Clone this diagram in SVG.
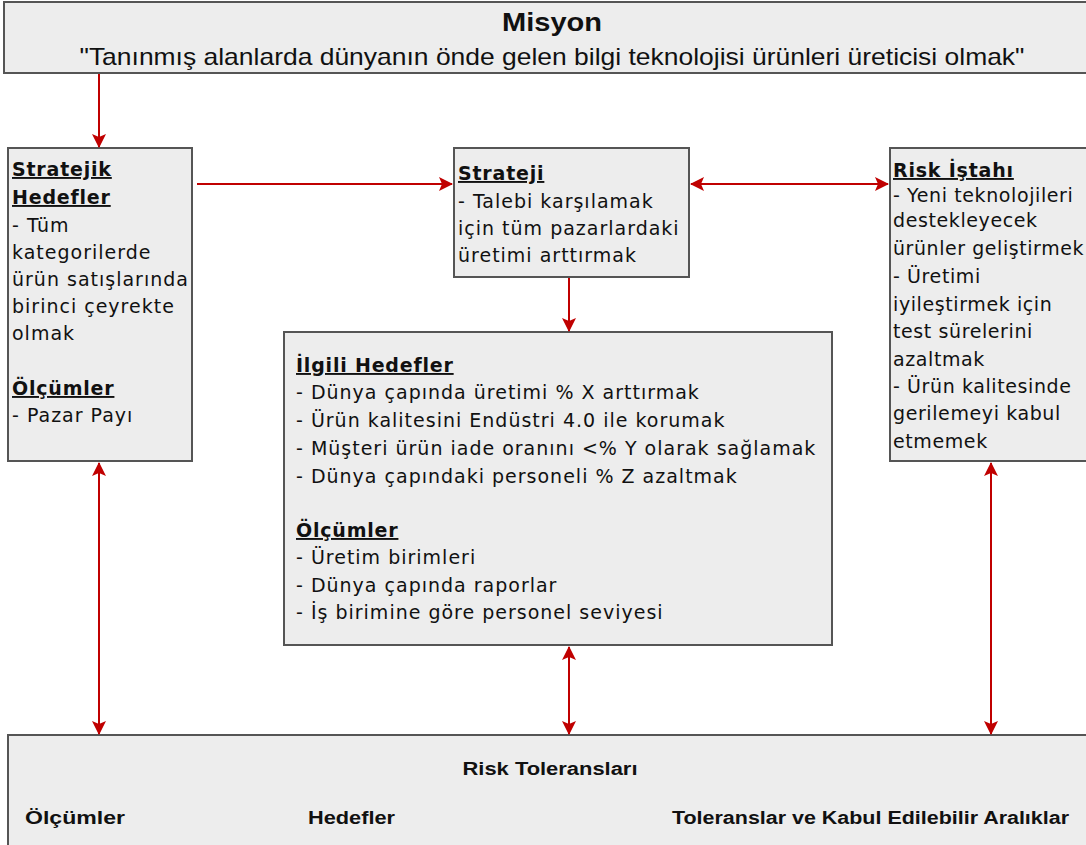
<svg xmlns="http://www.w3.org/2000/svg" width="1086" height="845" viewBox="0 0 1086 845">
<defs>
<marker id="ah" viewBox="0 0 14 14" refX="13" refY="7" markerWidth="14" markerHeight="14" markerUnits="userSpaceOnUse" orient="auto-start-reverse">
<path d="M0,0 L14,7 L0,14 L3,7 Z" fill="#c00000"/>
</marker>
<style>
.box{fill:#ededed;stroke:#555;stroke-width:2}
.t{font-family:"DejaVu Sans",Verdana,sans-serif;font-size:19px;letter-spacing:1px;fill:#111}
.h{font-family:"DejaVu Sans",Verdana,sans-serif;font-size:19px;letter-spacing:0.8px;font-weight:bold;text-decoration:underline;fill:#111}
.n{font-family:"Liberation Sans",Arial,sans-serif;fill:#111}
.c{stroke:#c00000;stroke-width:2;fill:none}
#risk-istahi .t{letter-spacing:0.6px}
</style>
</defs>
<rect width="1086" height="845" fill="#fff"/>
<g id="misyon">
<rect class="box" x="4" y="2" width="1090" height="71"/>
<text class="n" x="552" y="31" font-size="25" font-weight="bold" text-anchor="middle" textLength="100" lengthAdjust="spacingAndGlyphs">Misyon</text>
<text class="n" x="552" y="65" font-size="24" text-anchor="middle" textLength="945" lengthAdjust="spacingAndGlyphs">"Tanınmış alanlarda dünyanın önde gelen bilgi teknolojisi ürünleri üreticisi olmak"</text>
</g>
<g id="stratejik-hedefler">
<rect class="box" x="8" y="148" width="184" height="313"/>
<text class="h" x="12" y="176">Stratejik</text>
<text class="h" x="12" y="204">Hedefler</text>
<text class="t" x="12" y="232">- Tüm</text>
<text class="t" x="12" y="259">kategorilerde</text>
<text class="t" x="12" y="286">ürün satışlarında</text>
<text class="t" x="12" y="313">birinci çeyrekte</text>
<text class="t" x="12" y="340">olmak</text>
<text class="h" x="12" y="395">Ölçümler</text>
<text class="t" x="12" y="422">- Pazar Payı</text>
</g>
<g id="strateji">
<rect class="box" x="454" y="148" width="235" height="129"/>
<text class="h" x="458" y="180">Strateji</text>
<text class="t" x="458" y="208">- Talebi karşılamak</text>
<text class="t" x="458" y="235">için tüm pazarlardaki</text>
<text class="t" x="458" y="262">üretimi arttırmak</text>
</g>
<g id="risk-istahi">
<rect class="box" x="890" y="148" width="200" height="313"/>
<text class="h" x="893" y="177">Risk İştahı</text>
<text class="t" x="893" y="202">- Yeni teknolojileri</text>
<text class="t" x="893" y="227">destekleyecek</text>
<text class="t" x="893" y="255" textLength="191" lengthAdjust="spacingAndGlyphs">ürünler geliştirmek</text>
<text class="t" x="893" y="283">- Üretimi</text>
<text class="t" x="893" y="311">iyileştirmek için</text>
<text class="t" x="893" y="338">test sürelerini</text>
<text class="t" x="893" y="366">azaltmak</text>
<text class="t" x="893" y="393">- Ürün kalitesinde</text>
<text class="t" x="893" y="420">gerilemeyi kabul</text>
<text class="t" x="893" y="448">etmemek</text>
</g>
<g id="ilgili-hedefler">
<rect class="box" x="284" y="332" width="548" height="313"/>
<text class="h" x="296" y="372">İlgili Hedefler</text>
<text class="t" x="296" y="399">- Dünya çapında üretimi % X arttırmak</text>
<text class="t" x="296" y="427">- Ürün kalitesini Endüstri 4.0 ile korumak</text>
<text class="t" x="296" y="455">- Müşteri ürün iade oranını &lt;% Y olarak sağlamak</text>
<text class="t" x="296" y="483">- Dünya çapındaki personeli % Z azaltmak</text>
<text class="h" x="296" y="537">Ölçümler</text>
<text class="t" x="296" y="564">- Üretim birimleri</text>
<text class="t" x="296" y="592">- Dünya çapında raporlar</text>
<text class="t" x="296" y="619">- İş birimine göre personel seviyesi</text>
</g>
<g id="risk-toleranslari">
<rect class="box" x="8" y="735" width="1090" height="120"/>
<text class="n" x="550" y="775" font-size="18" font-weight="bold" text-anchor="middle" textLength="175" lengthAdjust="spacingAndGlyphs">Risk Toleransları</text>
<text class="n" x="25" y="824" font-size="18" font-weight="bold" textLength="100" lengthAdjust="spacingAndGlyphs">Ölçümler</text>
<text class="n" x="308" y="824" font-size="18" font-weight="bold" textLength="87" lengthAdjust="spacingAndGlyphs">Hedefler</text>
<text class="n" x="672" y="824" font-size="18" font-weight="bold" textLength="397" lengthAdjust="spacingAndGlyphs">Toleranslar ve Kabul Edilebilir Aralıklar</text>
</g>
<g id="connectors">
<line class="c" x1="99" y1="74" x2="99" y2="147" marker-end="url(#ah)"/>
<line class="c" x1="197" y1="184" x2="452" y2="184" marker-end="url(#ah)"/>
<line class="c" x1="691" y1="184" x2="888" y2="184" marker-start="url(#ah)" marker-end="url(#ah)"/>
<line class="c" x1="569" y1="278" x2="569" y2="331" marker-end="url(#ah)"/>
<line class="c" x1="99" y1="463" x2="99" y2="734" marker-start="url(#ah)" marker-end="url(#ah)"/>
<line class="c" x1="569" y1="647" x2="569" y2="734" marker-start="url(#ah)" marker-end="url(#ah)"/>
<line class="c" x1="991" y1="463" x2="991" y2="734" marker-start="url(#ah)" marker-end="url(#ah)"/>
</g>
</svg>
